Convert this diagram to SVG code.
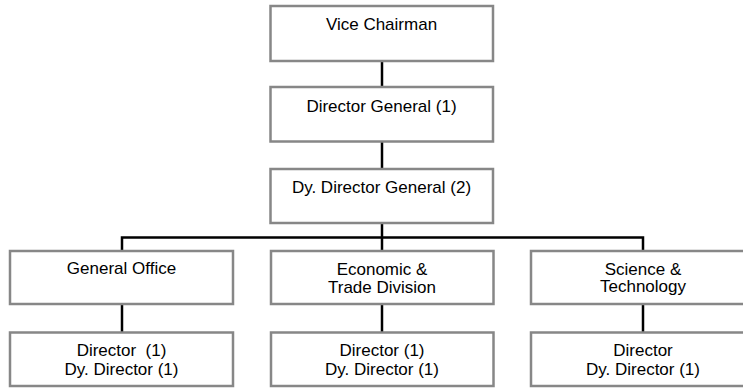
<svg xmlns="http://www.w3.org/2000/svg" width="743" height="388" viewBox="0 0 743 388">
<style>
.box{fill:#ffffff;stroke:#878787;stroke-width:2.5}
.lbl{font-family:"Liberation Sans",Arial,sans-serif;font-size:17px;fill:#000000;text-anchor:middle}
.conn{stroke:#000000;stroke-width:2.5;fill:none}
</style>
<rect width="743" height="388" fill="#ffffff"/>
<g id="connectors">
<line class="conn" x1="382" y1="61" x2="382" y2="87"/>
<line class="conn" x1="382" y1="141.5" x2="382" y2="169"/>
<line class="conn" x1="382" y1="223" x2="382" y2="237.5"/>
<polyline class="conn" points="122,251 122,237.5 643,237.5 643,251"/>
<line class="conn" x1="382" y1="237.5" x2="382" y2="251"/>
<line class="conn" x1="122" y1="304" x2="122" y2="332.5"/>
<line class="conn" x1="382" y1="304" x2="382" y2="332.5"/>
<line class="conn" x1="643" y1="304" x2="643" y2="332.5"/>
</g>
<g id="vice-chairman">
<rect class="box" x="270.5" y="6" width="222.5" height="55"/>
<text class="lbl" x="381.5" y="29.5">Vice Chairman</text>
</g>
<g id="director-general">
<rect class="box" x="270.5" y="87" width="222.5" height="54.5"/>
<text class="lbl" x="381.5" y="111.5">Director General (1)</text>
</g>
<g id="dy-director-general">
<rect class="box" x="270.5" y="169" width="222.5" height="54"/>
<text class="lbl" x="381.5" y="193">Dy. Director General (2)</text>
</g>
<g id="general-office">
<rect class="box" x="10" y="251" width="223" height="53"/>
<text class="lbl" x="121.5" y="273.5">General Office</text>
</g>
<g id="economic-trade">
<rect class="box" x="271" y="251" width="222.5" height="53"/>
<text class="lbl" x="382" y="274.5">Economic &amp;</text>
<text class="lbl" x="382" y="292.8">Trade Division</text>
</g>
<g id="science-technology">
<rect class="box" x="531" y="251" width="223" height="53"/>
<text class="lbl" x="643" y="274.5">Science &amp;</text>
<text class="lbl" x="643" y="292">Technology</text>
</g>
<g id="go-directors">
<rect class="box" x="10" y="332.5" width="223" height="53.5"/>
<text class="lbl" x="121.5" y="356" xml:space="preserve">Director  (1)</text>
<text class="lbl" x="121.5" y="374.5">Dy. Director (1)</text>
</g>
<g id="et-directors">
<rect class="box" x="271" y="332.5" width="222.5" height="53.5"/>
<text class="lbl" x="382" y="356">Director (1)</text>
<text class="lbl" x="382" y="374.5">Dy. Director (1)</text>
</g>
<g id="st-directors">
<rect class="box" x="531" y="332.5" width="223" height="53.5"/>
<text class="lbl" x="643" y="356">Director</text>
<text class="lbl" x="643" y="374.5">Dy. Director (1)</text>
</g>
</svg>
